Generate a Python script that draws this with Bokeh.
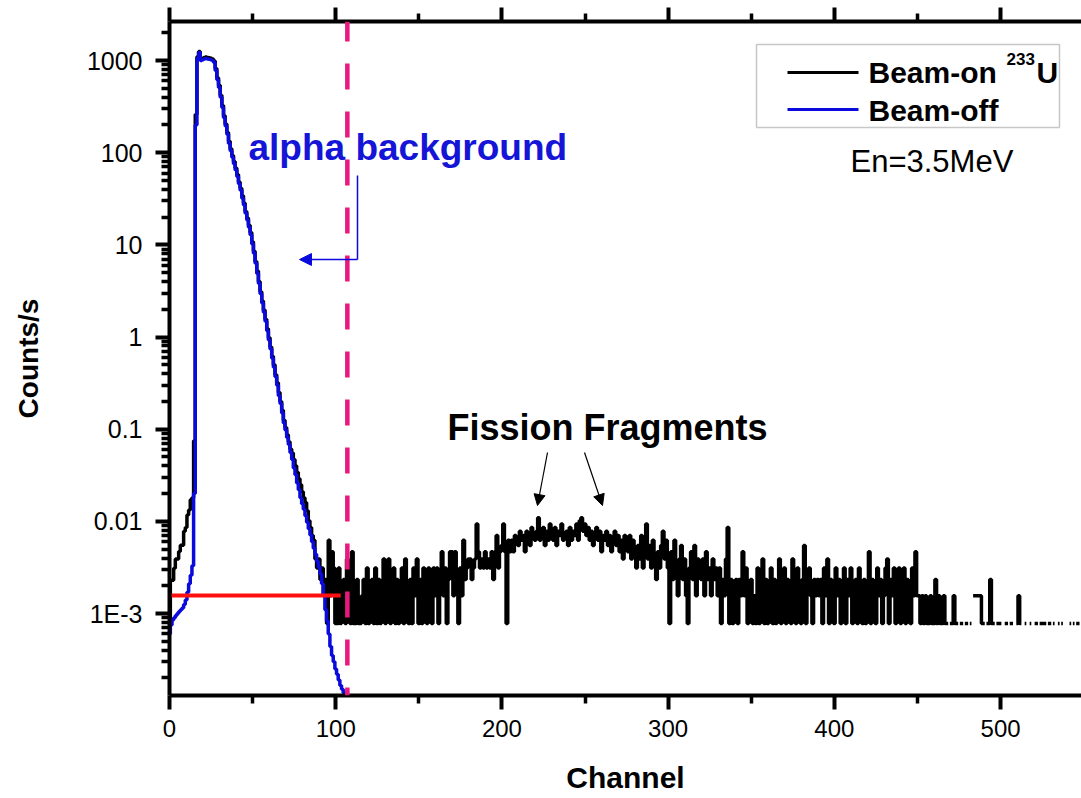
import numpy as np
from bokeh.plotting import figure
from bokeh.models import (Range1d, LinearAxis, FixedTicker, CustomJSTickFormatter, Label,
                          Arrow, NormalHead, BoxAnnotation, Span)
from bokeh.embed import file_html
from bokeh.resources import INLINE

# ---------------- data ----------------
COUNT_RATE_UNIT = 7.8e-4  # counts/s corresponding to one recorded count

# Beam-off (alpha background), channel 0..106, counts/s
beam_off_rate = [
    6.0e-4, 7.5e-4, 8.5e-4, 9.0e-4, 9.5e-4, 1.0e-3, 1.05e-3, 1.1e-3, 1.15e-3, 1.25e-3,
    1.4e-3, 1.7e-3, 2.1e-3, 2.6e-3, 3.3e-3, 0.02, 200, 1050, 1220, 1000,
    1020, 1040, 1050, 1040, 1030, 1020, 1000, 950, 780, 620,
    510, 400, 310, 240, 195, 158, 126, 105, 89, 76,
    65, 55, 46, 39, 32, 27, 22, 18.6, 15.5, 12.9,
    10.2, 8.1, 6.3, 4.9, 3.8, 2.95, 2.34, 1.86, 1.48, 1.17,
    0.93, 0.74, 0.59, 0.47, 0.37, 0.30, 0.23, 0.19, 0.15, 0.117,
    0.098, 0.081, 0.068, 0.056, 0.047, 0.038, 0.032, 0.026, 0.022, 0.018,
    0.0155, 0.0135, 0.0115, 0.0098, 0.0083, 0.0071, 0.0060, 0.0051, 0.0044, 0.0037,
    0.0032, 0.0027, 0.0021, 0.0016, 0.0011, 0.00083, 0.00060, 0.00044, 0.00035, 0.00030,
    0.00025, 0.00022, 0.00019, 0.000166, 0.000151, 0.000138, 0.000126,
]
beam_off_channel = list(range(len(beam_off_rate)))

# Beam-on 233U, channel 0..83, counts/s
beam_on_low_rate = [
    0.00078, 0.0023, 0.0023, 0.0031, 0.0039, 0.0039, 0.0047, 0.0055, 0.0055, 0.0078,
    0.0086, 0.0117, 0.0133, 0.0172, 0.0180, 0.075, 260, 1100, 1250, 1060,
    1060, 1080, 1090, 1080, 1070, 1060, 1040, 990, 820, 650,
    540, 420, 325, 252, 205, 166, 133, 110, 93, 80,
    68, 58, 48, 41, 34, 28.5, 23, 19.6, 16.3, 13.6,
    10.8, 8.5, 6.6, 5.2, 4.0, 3.1, 2.46, 1.96, 1.56, 1.23,
    0.98, 0.78, 0.62, 0.50, 0.39, 0.32, 0.25, 0.20, 0.16, 0.125,
    0.104, 0.087, 0.073, 0.061, 0.055, 0.047, 0.040, 0.034, 0.029, 0.025,
    0.021, 0.018, 0.016, 0.013,
]
# Beam-on 233U, channel 84..549, recorded counts
beam_on_counts_start = 84
beam_on_counts = [
    13, 11, 9, 8, 5, 4, 5, 3, 4, 2, 3, 1, 8, 2, 6, 4,
    1, 1, 4, 1, 2, 3, 1, 5, 2, 1,
    6, 1, 1, 3, 1, 1, 2, 3, 1, 4,
    1, 2, 3, 1, 4, 1, 3, 1, 2, 5,
    1, 3, 5, 1, 2, 4, 1, 3, 1, 2,
    4, 1, 5, 2, 1, 3, 1, 4, 2, 5,
    1, 3, 1, 4, 2, 1, 4, 3, 1, 4,
    2, 4, 1, 3, 6, 2, 4, 1, 3, 6,
    6, 2, 6, 3, 1, 4, 2, 8, 3, 4,
    5, 5, 3, 4, 5, 12, 6, 4, 5, 4,
    6, 4, 5, 4, 6, 3, 6, 9, 4, 6,
    7, 12, 6, 1, 8, 6, 8, 6, 9, 8,
    7, 10, 8, 9, 6, 10, 8, 7, 11, 9,
    8, 10, 14, 8, 9, 11, 7, 10, 8, 12,
    9, 8, 11, 7, 10, 9, 12, 8, 9, 10,
    7, 11, 8, 10, 9, 12, 8, 13, 14, 10,
    12, 9, 11, 8, 10, 7, 9, 11, 8, 10,
    6, 9, 8, 10, 7, 9, 6, 8, 10, 7,
    9, 6, 8, 5, 9, 7, 6, 9, 5, 8,
    6, 4, 7, 5, 9, 4, 6, 12, 5, 7,
    4, 8, 5, 3, 6, 4, 7, 10, 5, 8,
    4, 1, 6, 3, 8, 4, 2, 5, 7, 3,
    5, 2, 1, 4, 6, 3, 7, 2, 5, 4,
    3, 5, 2, 6, 3, 4, 2, 5, 3, 4,
    2, 4, 1, 3, 2, 5, 11, 1, 3, 1,
    2, 3, 1, 3, 2, 6, 2, 4, 1, 2,
    3, 1, 2, 1, 4, 1, 2, 5, 1, 3,
    1, 2, 4, 1, 3, 1, 2, 5, 1, 2,
    4, 1, 3, 2, 1, 5, 2, 1, 4, 2,
    1, 3, 7, 1, 3, 4, 2, 1, 3, 2,
    3, 2, 3, 1, 4, 2, 5, 1, 3, 2,
    1, 4, 2, 3, 1, 2, 4, 1, 3, 2,
    4, 1, 2, 3, 1, 4, 2, 1, 3, 1,
    2, 6, 1, 3, 2, 1, 4, 2, 3, 1,
    2, 4, 5, 1, 3, 2, 4, 1, 2, 4,
    1, 2, 4, 1, 3, 2, 1, 4, 2, 6,
    2, 2, 1, 2, 1, 2, 1, 1, 2, 1,
    1, 3, 1, 2, 1, 1, 2, 1, 1, 0,
    1, 1, 2, 1, 1, 0, 1, 1, 0, 1,
    1, 0, 1, 0, 2, 2, 2, 2, 2, 1,
    1, 0, 1, 1, 3, 1, 1, 0, 1, 1,
    1, 0, 0, 1, 1, 0, 1, 1, 0, 0,
    1, 2, 1, 0, 0, 1, 0, 0, 1, 0,
    0, 1, 1, 0, 1, 1, 1, 1, 0, 1,
    1, 0, 1, 0, 0, 1, 0, 1, 0, 0,
    0, 0, 1, 0, 1, 0, 1, 1, 0, 1,
]

threshold_channels = [0, 103]      # red line
threshold_rate = 1.57e-3
cut_channel = 107                  # dashed magenta line

x_ticks = [0, 100, 200, 300, 400, 500]
x_tick_labels = ["0", "100", "200", "300", "400", "500"]
y_ticks = [1e-3, 1e-2, 1e-1, 1, 10, 100, 1000]
y_tick_labels = ["1E-3", "0.01", "0.1", "1", "10", "100", "1000"]

# ---------------- helpers ----------------
beam_on_channel = list(range(len(beam_on_low_rate) + len(beam_on_counts)))
beam_on_rate = list(beam_on_low_rate) + [c * COUNT_RATE_UNIT for c in beam_on_counts]


def step_path(channels, values):
    xs, ys = [], []
    for c, v in zip(channels, values):
        if v is None or not np.isfinite(v) or v <= 0:
            if xs and np.isfinite(xs[-1]):
                xs.append(np.nan)
                ys.append(np.nan)
            continue
        xs += [c - 0.5, c + 0.5]
        ys += [v, v]
    return np.array(xs, dtype=float), np.array(ys, dtype=float)


FRAME_LEFT, FRAME_BOTTOM = 169, 695
TEXT_LIFT = 11  # compensation for the baseline placement of SVG text
def sx(px):
    return px - FRAME_LEFT
def sy(py):
    return FRAME_BOTTOM - py
def ty(py):
    return FRAME_BOTTOM - py + TEXT_LIFT

FONT = "Liberation Sans"
BLUE = "#0A0ADC"

p = figure(width=1081, height=798, x_range=Range1d(0, 548.7), y_range=Range1d(1.29e-4, 2650),
           y_axis_type="log", output_backend="svg", toolbar_location=None,
           min_border_left=169, min_border_right=0, min_border_top=21, min_border_bottom=103)
p.outline_line_color = None
p.xgrid.visible = False
p.ygrid.visible = False
p.background_fill_color = "white"
p.border_fill_color = "white"

bx, by = step_path(beam_on_channel, beam_on_rate)
p.line(bx, by, line_color="black", line_width=3.5)
fx, fy = step_path(beam_off_channel, beam_off_rate)
p.line(fx, fy, line_color=BLUE, line_width=3.5)
p.line(threshold_channels, [threshold_rate] * len(threshold_channels), line_color="#FF1010", line_width=4)

p.add_layout(Span(location=cut_channel, dimension="height", line_color="#E8197D", line_width=4.5,
                  line_dash="26 22", line_dash_offset=6))


def style_axis(ax):
    ax.axis_line_width = 4
    ax.axis_line_color = "black"
    ax.major_tick_line_width = 4
    ax.minor_tick_line_width = 3.5
    ax.major_tick_line_color = "black"
    ax.minor_tick_line_color = "black"
    ax.major_tick_in = 0
    ax.major_tick_out = 14
    ax.minor_tick_in = 0
    ax.minor_tick_out = 8
    ax.major_label_text_font = FONT
    ax.major_label_text_font_size = "24px"
    ax.major_label_text_color = "black"
    ax.axis_label_text_font = FONT
    ax.axis_label_text_font_style = "bold"
    ax.axis_label_text_color = "black"


xminor = [t + 50 for t in x_ticks]
xa = p.xaxis[0]
xa.ticker = FixedTicker(ticks=x_ticks, minor_ticks=xminor)
xa.major_label_overrides = dict(zip(x_ticks, x_tick_labels))
style_axis(xa)
xa.axis_label = "Channel"
xa.axis_label_text_font_size = "30px"
xa.major_label_standoff = 10
xa.axis_label_standoff = 21

ya = p.yaxis[0]
yminor = [m * 10.0 ** k for k in range(-4, 4) for m in range(2, 10)]
ya.ticker = FixedTicker(ticks=y_ticks, minor_ticks=yminor)
ya.formatter = CustomJSTickFormatter(args=dict(tick_values=y_ticks, tick_texts=y_tick_labels), code="""
const lt = Math.log10(tick);
for (let i = 0; i < tick_values.length; i++) {
  if (Math.abs(Math.log10(tick_values[i]) - lt) < 1e-6) return tick_texts[i];
}
return "";
""")
style_axis(ya)
ya.major_label_text_font_size = "25px"
ya.major_label_standoff = 13
ya.axis_label = "Counts/s"
ya.axis_label_text_font_size = "28px"
ya.axis_label_standoff = 40

top = LinearAxis(ticker=FixedTicker(ticks=x_ticks, minor_ticks=xminor),
                 formatter=CustomJSTickFormatter(code="return '';"))
style_axis(top)
top.major_label_text_font_size = "0px"
top.major_label_standoff = 0
p.add_layout(top, "above")

# ---------------- annotations ----------------
p.add_layout(Label(x=sx(248), y=ty(158), x_units="screen", y_units="screen", text="alpha background",
                   text_font=FONT, text_font_size="37px", text_font_style="bold",
                   text_color="#1515D8", text_baseline="alphabetic"))
p.add_layout(Arrow(x_start=sx(357), y_start=sy(175), x_end=sx(357), y_end=sy(259),
                   start_units="screen", end_units="screen", end=None,
                   line_color=BLUE, line_width=1.5))
p.add_layout(Arrow(x_start=sx(357), y_start=sy(259), x_end=sx(299), y_end=sy(259),
                   start_units="screen", end_units="screen",
                   end=NormalHead(size=12, fill_color=BLUE, line_color=BLUE, line_width=1),
                   line_color=BLUE, line_width=1.5))

p.add_layout(Label(x=sx(447), y=ty(438), x_units="screen", y_units="screen", text="Fission Fragments",
                   text_font=FONT, text_font_size="36px", text_font_style="bold",
                   text_color="black", text_baseline="alphabetic"))
p.add_layout(Arrow(x_start=sx(547), y_start=sy(452), x_end=sx(537), y_end=sy(505),
                   start_units="screen", end_units="screen",
                   end=NormalHead(size=11, fill_color="black", line_color="black", line_width=1),
                   line_color="black", line_width=1.2))
p.add_layout(Arrow(x_start=sx(584), y_start=sy(452), x_end=sx(602), y_end=sy(505),
                   start_units="screen", end_units="screen",
                   end=NormalHead(size=11, fill_color="black", line_color="black", line_width=1),
                   line_color="black", line_width=1.2))

p.add_layout(Label(x=sx(850), y=ty(172), x_units="screen", y_units="screen", text="En=3.5MeV",
                   text_font=FONT, text_font_size="31px", text_color="black",
                   text_baseline="alphabetic"))

# legend (drawn manually to match the reference box)
def screen_box(l, r, t, b, **kw):
    return BoxAnnotation(left=sx(l), right=sx(r), top=sy(t), bottom=sy(b),
                         left_units="screen", right_units="screen", top_units="screen",
                         bottom_units="screen", **kw)

p.add_layout(screen_box(756, 1059, 44, 127, fill_alpha=0, line_color="#444444", line_width=1.5))
p.add_layout(screen_box(787, 858, 70.5, 73.5, fill_color="black", fill_alpha=1, line_alpha=0))
p.add_layout(screen_box(787, 858, 107.5, 110.5, fill_color=BLUE, fill_alpha=1, line_alpha=0))
legend_font = dict(text_font=FONT, text_font_style="bold", text_color="black",
                   text_baseline="alphabetic", x_units="screen", y_units="screen")
p.add_layout(Label(x=sx(868), y=ty(83), text="Beam-on", text_font_size="30px", **legend_font))
p.add_layout(Label(x=sx(1006), y=ty(69), text="233", text_font_size="17px", **legend_font))
p.add_layout(Label(x=sx(1036), y=ty(83), text="U", text_font_size="30px", **legend_font))
p.add_layout(Label(x=sx(868), y=ty(121), text="Beam-off", text_font_size="30px", **legend_font))

open("out.html", "w").write(file_html(p, INLINE))
